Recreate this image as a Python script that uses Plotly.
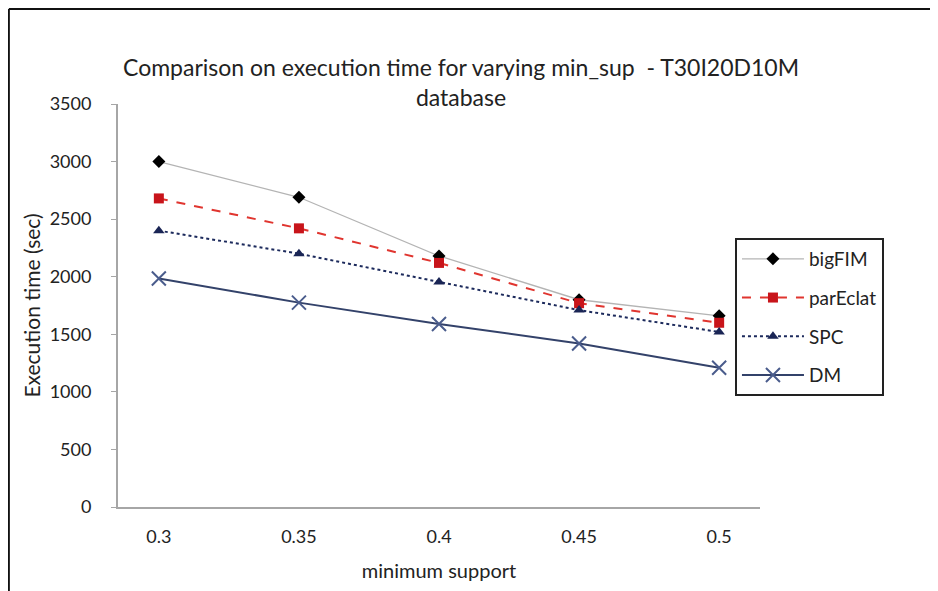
import plotly.graph_objects as go

# minimum support values (category axis)
min_sup = ['0.3', '0.35', '0.4', '0.45', '0.5']

# execution time (sec)
bigfim = [3000, 2690, 2180, 1800, 1660]
pareclat = [2680, 2420, 2120, 1770, 1600]
spc = [2400, 2200, 1955, 1710, 1520]
dm = [1985, 1775, 1590, 1420, 1210]

fig = go.Figure()

fig.add_trace(go.Scatter(
    x=min_sup, y=bigfim, name='bigFIM', mode='lines+markers', legendgroup='a',
    line=dict(color='#b4b4b4', width=1.3),
    marker=dict(symbol='diamond', color='black', size=10)
))
fig.add_trace(go.Scatter(
    x=min_sup, y=pareclat, name='parEclat', mode='lines+markers', legendgroup='b',
    line=dict(color='#e0352f', width=2, dash='dash'),
    marker=dict(symbol='square', color='#c8141a', size=10)
))
fig.add_trace(go.Scatter(
    x=min_sup, y=spc, name='SPC', mode='lines+markers', legendgroup='c',
    line=dict(color='#1c2a5c', width=2, dash='dot'),
    marker=dict(symbol='triangle-up', color='#1a2555', size=10)
))
fig.add_trace(go.Scatter(
    x=min_sup, y=dm, name='DM', mode='lines+markers', legendgroup='d',
    line=dict(color='#33426a', width=2),
    marker=dict(symbol='x-thin', size=14, line=dict(color='#4a5c8c', width=2))
))

fig.update_layout(
    width=938, height=591,
    margin=dict(l=110, r=186, t=96, b=92),
    plot_bgcolor='white', paper_bgcolor='white',
    font=dict(family='Lato, "Open Sans", sans-serif', size=18, color='#222222'),
    title=dict(
        text='Comparison on execution time for varying min_sup  - T30I20D10M<br>database',
        x=0.483, xanchor='center', y=0.885, yanchor='middle',
        font=dict(size=23, color='#222222')
    ),
    xaxis=dict(
        title=dict(text='minimum support', font=dict(size=20), standoff=18),
        showline=True, linecolor='#a6a6a6', linewidth=2,
        ticks='', showgrid=False, zeroline=False, tickfont=dict(size=18),
        ticklabelstandoff=12
    ),
    yaxis=dict(
        title=dict(text='Execution time (sec)', font=dict(size=21), standoff=3),
        range=[0, 3500], dtick=500,
        showline=True, linecolor='#a6a6a6', linewidth=2,
        ticks='outside', ticklen=5, tickcolor='#a6a6a6', tickwidth=1,
        showgrid=False, zeroline=False, tickfont=dict(size=18),
        ticklabelstandoff=16
    ),
    legend=dict(
        x=0.961, y=0.6675, xanchor='left', yanchor='top',
        bordercolor='#222222', borderwidth=2, bgcolor='white',
        tracegroupgap=11, font=dict(size=19),
        itemwidth=62
    ),
    showlegend=True,
    shapes=[
        dict(type='line', xref='paper', yref='paper', x0=-0.170, x1=1.4, y0=1.236, y1=1.236,
             line=dict(color='#111111', width=2)),
        dict(type='line', xref='paper', yref='paper', x0=-0.170, x1=-0.170, y0=-0.3, y1=1.236,
             line=dict(color='#111111', width=2)),
    ]
)

fig.write_html('out.html')
